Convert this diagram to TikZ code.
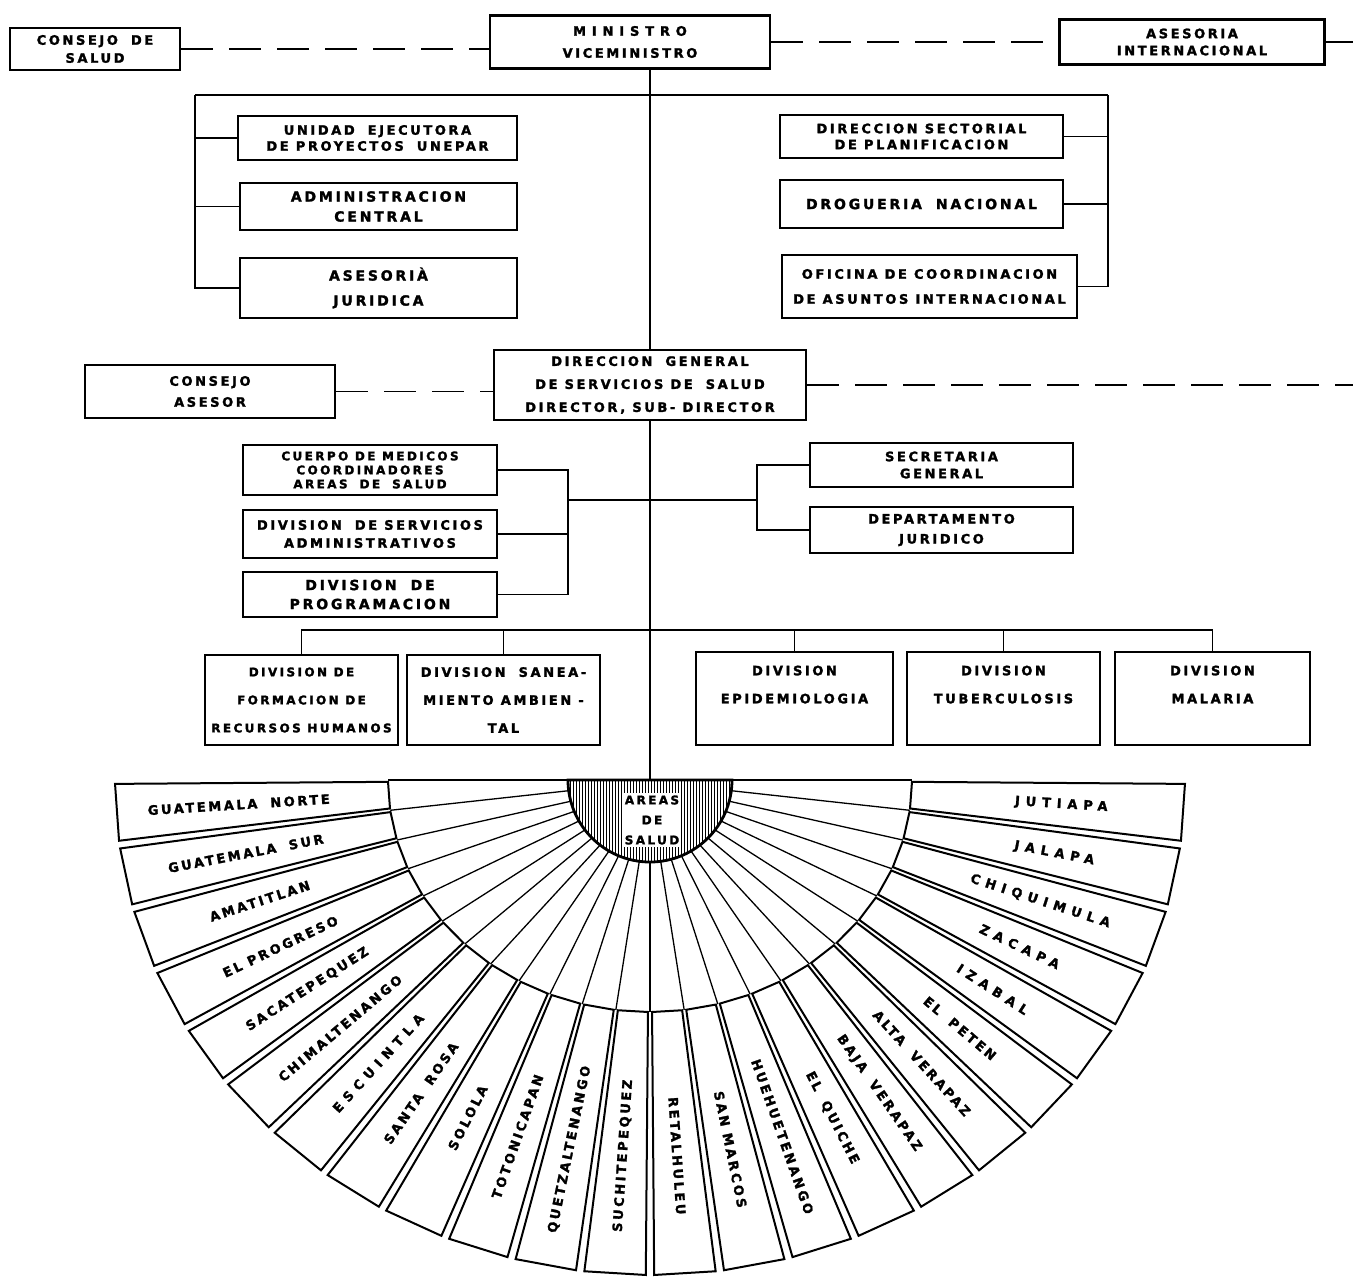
\documentclass[tikz,border=0pt]{standalone}
\usepackage{fontspec}
\setmainfont{DejaVu Sans}
\newfontfamily\orgfont{DejaVu Sans}[LetterSpace=20, BoldFeatures={FakeBold=1.8}]
\newfontfamily\orgwide{DejaVu Sans}[LetterSpace=45, BoldFeatures={FakeBold=1.8}]
\usetikzlibrary{calc,patterns}
\newcommand{\orgf}[2]{\orgfont\bfseries\fontsize{#1}{#2}\selectfont}
\newcommand{\wide}[1]{{\orgwide\bfseries #1}}
\tikzset{
  unit/.style={draw, line width=2.4pt, align=center, inner sep=1pt, font=\orgf{13}{19}},
  link/.style={line width=1.8pt},
  advice/.style={line width=1.8pt, dash pattern=on 32pt off 16pt},
  areabox/.style={draw, line width=2pt},
  areatext/.style={font=\orgf{13}{15}, inner sep=0pt},
}
\begin{document}
\begin{tikzpicture}[x=1pt, y=-1pt]
    \useasboundingbox (0,0) rectangle (1353,1278);
    % top row
    \node[unit, minimum width=170, minimum height=42, font=\orgf{13}{18}] (cons) at (95,49) {CONSEJO\quad DE\\SALUD};
    \node[unit, minimum width=280, minimum height=53, font=\orgf{13}{22}] (ministro) at (630,42) {\wide{MINISTRO}\\VICEMINISTRO};
    \node[unit, minimum width=265, minimum height=45, font=\orgf{13}{17}] (asesint) at (1192,42) {ASESORIA\\INTERNACIONAL};
    \coordinate (edge1) at (1353,42);
    \draw[advice] (cons.east) -- (cons.east -| ministro.west);
    \draw[advice] (ministro.east) -- (ministro.east -| asesint.west);
    \draw[link] (asesint.east) -- (edge1);
    % staff of the minister
    \node[unit, minimum width=279, minimum height=44, font=\orgf{13}{16}] (unidad) at (377.5,138) {UNIDAD\quad EJECUTORA\\DE PROYECTOS\quad UNEPAR};
    \node[unit, minimum width=277, minimum height=47, font=\orgf{14}{20}] (admin) at (378.5,206.5) {ADMINISTRACION\\CENTRAL};
    \node[unit, minimum width=277, minimum height=60, font=\orgf{14}{25}] (asesjur) at (378.5,288) {ASESORIÀ\\JURIDICA};
    \node[unit, minimum width=283, minimum height=43, font=\orgf{13}{16}] (dirsect) at (921.5,136.5) {DIRECCION SECTORIAL\\DE PLANIFICACION};
    \node[unit, minimum width=283, minimum height=48, font=\orgf{14}{19}] (drog) at (921.5,204) {DROGUERIA\quad NACIONAL};
    \node[unit, minimum width=295, minimum height=63, font=\orgf{13}{25}] (oficina) at (929.5,286.5) {OFICINA DE COORDINACION\\DE ASUNTOS INTERNACIONAL};
    \coordinate (lbar) at (195,95);
    \coordinate (rbar) at (1108,95);
    \draw[link] (lbar) -- (rbar);
    \draw[link] (lbar) |- (asesjur.west);
    \draw[link] (unidad.west) -- (unidad.west -| lbar);
    \draw[link] (admin.west) -- (admin.west -| lbar);
    \draw[link] (rbar) |- (oficina.east);
    \draw[link] (dirsect.east) -- (dirsect.east -| rbar);
    \draw[link] (drog.east) -- (drog.east -| rbar);
    % general direction
    \node[unit, minimum width=312, minimum height=70, font=\orgf{13}{23}] (dgss) at (650,385) {DIRECCION\quad GENERAL\\DE SERVICIOS DE\quad SALUD\\DIRECTOR, SUB- DIRECTOR};
    \node[unit, minimum width=250, minimum height=53, font=\orgf{13}{21}] (consase) at (210,391.5) {CONSEJO\\ASESOR};
    \coordinate (edge2) at (1353,388);
    \draw[link] (ministro.south -| dgss.north) -- (dgss.north);
    \draw[advice] (consase.east) -- (consase.east -| dgss.west);
    \draw[advice] (dgss.east) -- (dgss.east -| edge2);
    % staff of the general direction
    \node[unit, minimum width=254, minimum height=50, font=\orgf{12}{14}] (cuerpo) at (370,470) {CUERPO DE MEDICOS\\COORDINADORES\\AREAS\quad DE\quad SALUD};
    \node[unit, minimum width=254, minimum height=48, font=\orgf{13}{18}] (divserv) at (370,534) {DIVISION\quad DE SERVICIOS\\ADMINISTRATIVOS};
    \node[unit, minimum width=254, minimum height=45, font=\orgf{14}{19}] (divprog) at (370,594.5) {DIVISION\quad DE\\PROGRAMACION};
    \node[unit, minimum width=263, minimum height=44, font=\orgf{13}{17}] (secgen) at (941.5,465) {SECRETARIA\\GENERAL};
    \node[unit, minimum width=263, minimum height=46, font=\orgf{13}{20}] (depjur) at (941.5,530) {DEPARTAMENTO\\JURIDICO};
    \coordinate (gl) at (568,500);
    \coordinate (gr) at (757,500);
    \draw[link] (gl) -- (gr);
    \draw[link] (cuerpo.east) -| (gl |- divprog.east) -- (divprog.east);
    \draw[link] (divserv.east) -- (divserv.east -| gl);
    \draw[link] (secgen.west) -| (gr |- depjur.west) -- (depjur.west);
    % divisions
    \node[unit, minimum width=193, minimum height=90, font=\orgf{12}{28}] (divfor) at (301.5,700) {DIVISION DE\\FORMACION DE\\RECURSOS HUMANOS};
    \node[unit, minimum width=193, minimum height=90, font=\orgf{13}{28}] (divsan) at (503.5,700) {DIVISION\quad SANEA-\\MIENTO AMBIEN -\\TAL};
    \node[unit, minimum width=197, minimum height=93, font=\orgf{13}{28}] (divepi) at (794.5,698.5) {DIVISION\\EPIDEMIOLOGIA\\\mbox{}};
    \node[unit, minimum width=193, minimum height=93, font=\orgf{13}{28}] (divtub) at (1003.5,698.5) {DIVISION\\TUBERCULOSIS\\\mbox{}};
    \node[unit, minimum width=195, minimum height=93, font=\orgf{13}{28}] (divmal) at (1212.5,698.5) {DIVISION\\MALARIA\\\mbox{}};
    \coordinate (dbar) at (650,630);
    \draw[link] (divfor.north) |- (divmal.north |- dbar) -- (divmal.north);
    \foreach \d in {divsan,divepi,divtub}
        \draw[link] (\d.north) -- (\d.north |- dbar);
    % areas de salud
    \coordinate (fan) at (650,780);
    \draw[link] (dgss.south) -- (fan);
    \foreach \k in {0,...,24}{
        \pgfmathsetmacro\b{180-7.5*\k}
        \draw[line width=1.3pt] ($(fan)+(\b:82)$) -- ($(fan)+(\b:262 and 232)$);
    }
    \foreach \area [count=\k from 0] in {GUATEMALA\quad NORTE, GUATEMALA\quad SUR, AMATITLAN, EL PROGRESO, SACATEPEQUEZ, CHIMALTENANGO, \wide{ESCUINTLA}, SANTA\quad ROSA, SOLOLA, TOTONICAPAN, QUETZALTENANGO, SUCHITEPEQUEZ, RETALHULEU, SAN MARCOS, HUEHUETENANGO, EL\quad QUICHE, BAJA\quad VERAPAZ, ALTA\quad VERAPAZ, EL\quad PETEN, \wide{IZABAL}, \wide{ZACAPA}, \wide{CHIQUIMULA}, \wide{JALAPA}, \wide{JUTIAPA}}{
        \pgfmathsetmacro\c{176.25-7.5*\k}
        \pgfmathsetmacro\cl{\c+3.3}
        \pgfmathsetmacro\cr{\c-3.3}
        \draw[areabox] ($(fan)+(\cl:262 and 232)$) -- ($(fan)+(\cl:535 and 495)$) -- ($(fan)+(\cr:535 and 495)$) -- ($(fan)+(\cr:262 and 232)$) -- cycle;
        \path ($(fan)+(\c:262 and 232)$) -- node[areatext, sloped, pos=0.55] (area\k) {\area} ($(fan)+(\c:535 and 495)$);
    }
    \draw[line width=2.8pt, pattern=vertical lines] ($(fan)+(-82,0)$) arc[start angle=180, end angle=0, radius=82] -- cycle;
    \node[areatext, fill=white, inner sep=2pt, align=center, font=\orgf{12}{20}] (areas) at (652,820) {AREAS\\DE\\SALUD};
\end{tikzpicture}
\end{document}
